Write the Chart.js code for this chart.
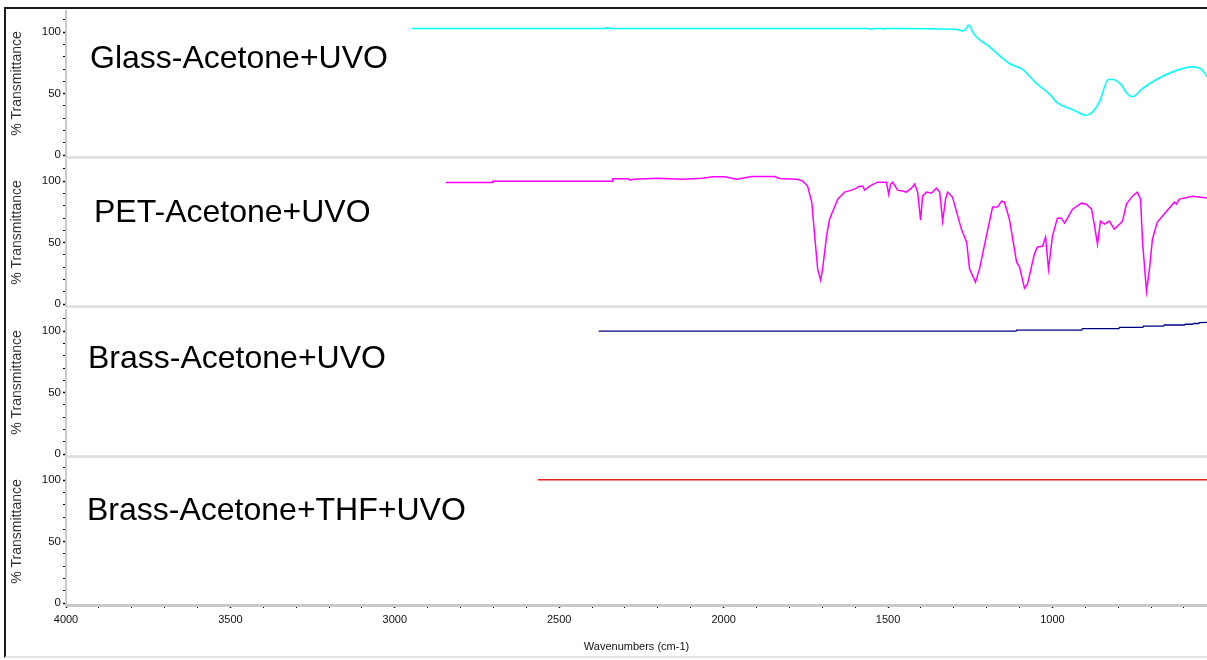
<!DOCTYPE html>
<html>
<head>
<meta charset="utf-8">
<title>FTIR spectra</title>
<script src="https://cdn.jsdelivr.net/npm/chart.js@4.4.1/dist/chart.umd.min.js"></script>
<style>
  html, body { margin: 0; padding: 0; background: #fff; width: 1207px; height: 660px; overflow: hidden; }
  #frame { position: absolute; left: 4px; top: 7px; width: 1210px; height: 651px; box-sizing: border-box;
           border-left: 2px solid #1a1a1a; border-top: 2px solid #1a1a1a; border-bottom: 2px solid #e4e4e4; }
  canvas { position: absolute; left: 6px; }
  .tag { position: absolute; font-family: "Liberation Sans", Arial, sans-serif; font-size: 32px;
         line-height: 32px; color: #000; white-space: nowrap; }
</style>
</head>
<body>
<div id="frame"></div>
<canvas id="p1" width="1201" height="149" style="top:10px"></canvas>
<canvas id="p2" width="1201" height="149" style="top:159px"></canvas>
<canvas id="p3" width="1201" height="149" style="top:309px"></canvas>
<canvas id="p4" width="1201" height="199" style="top:458px"></canvas>

<div class="tag" style="left:90px; top:41px">Glass-Acetone+UVO</div>
<div class="tag" style="left:94px; top:195px">PET-Acetone+UVO</div>
<div class="tag" style="left:88px; top:341px">Brass-Acetone+UVO</div>
<div class="tag" style="left:87px; top:493px">Brass-Acetone+THF+UVO</div>

<script>
// ---- spectra: wavenumber (cm-1) and % transmittance ----
const glassWavenumbers = [2948, 2360, 2353, 2346, 1560, 1552, 1545, 1520, 1514, 1508, 1465, 1289, 1274, 1262, 1255, 1248, 1243,
  1191, 1131, 1091, 1049, 1009, 985, 939, 897, 878, 857, 830, 818, 790, 775, 757, 726, 684, 635, 574, 547, 530];
const glassTransmittance = [103, 103, 103.8, 103, 103, 102.3, 103, 103, 102.4, 103, 103, 102.2, 101, 103, 105.7, 103.5, 100.2,
  88, 74.5, 69.7, 58.3, 49.6, 42.5, 37.2, 32.5, 35.2, 43.3, 61.5, 61.5, 56.9, 50.7, 47.5, 54.2, 61.5, 67.7, 71.8, 69.7, 64];

const petWavenumbers = [2845, 2704, 2702, 2339, 2337, 2290, 2286, 2274, 2201, 2125, 2064, 2033, 1997, 1960, 1915, 1845, 1830,
  1778, 1760, 1745, 1732, 1723, 1714, 1705, 1699, 1687, 1678, 1653, 1632, 1611, 1596, 1587, 1577, 1571, 1556, 1532, 1505,
  1498, 1492, 1486, 1471, 1456, 1444, 1429, 1419, 1410, 1401, 1395, 1383, 1368, 1353, 1343, 1334, 1325, 1319, 1304, 1277,
  1261, 1252, 1234, 1222, 1201, 1182, 1167, 1155, 1146, 1131, 1109, 1100, 1085, 1076, 1055, 1046, 1030, 1021, 1012, 1000,
  985, 973, 963, 939, 912, 897, 881, 872, 863, 854, 842, 827, 812, 796, 787, 775, 757, 742, 732, 726, 714, 705, 696, 681,
  653, 629, 623, 614, 574, 530];
const petTransmittance = [98.9, 98.9, 100, 100, 101.9, 101.9, 100.8, 101.6, 102.4, 101.6, 102.4, 103.5, 103.5, 101.6, 103.8, 103.8, 102.2,
  101.6, 100.2, 96.2, 82.9, 55.3, 28.5, 19.5, 28.5, 55.3, 69.1, 85.4, 91.1, 92.7, 94.3, 95.9, 95.9, 92.7, 95.9, 99.2, 99.2,
  89.4, 97.6, 99.2, 92.7, 91.9, 91.1, 94.3, 97.6, 91.1, 68.3, 87.8, 91.1, 90.2, 94.3, 91.1, 67.5, 85.4, 91.1, 87, 61,
  50.4, 28.5, 17.9, 28.5, 55.3, 78.9, 78.9, 83.7, 82.9, 69.1, 34.1, 30.1, 13, 16.3, 40.7, 46.3, 47.2, 54.5, 28.5, 55.3,
  69.9, 69.9, 65.9, 77.2, 82.1, 81.3, 77.2, 63.4, 48.8, 67.5, 65, 67.5, 61, 65, 67.5, 81.3, 87.8, 91.1, 85.4, 50.4, 10.6, 28.5, 52.8, 66.7,
  75.6, 82.9, 81.3, 85.4, 87.8, 86.2];

const brassWavenumbers = [2380, 1111, 1109, 911, 909, 798, 796, 725, 723, 662, 660, 598, 596, 575, 570, 555, 553, 530];
const brassTransmittance = [100, 100, 100.8, 100.8, 102, 102, 103, 103, 104, 104, 105, 105, 105.6, 105.6, 106.2, 106.2, 107, 107.2];

const brassThfWavenumbers = [2565, 530];
const brassThfTransmittance = [100.3, 100.3];

// ---- axis ticks ----
const yTickValues = [0, 10, 20, 30, 40, 50, 60, 70, 80, 90, 100, 110];
const yTickLabels = { 0: '0', 50: '50', 100: '100' };
const xTickValues = [4000, 3900, 3800, 3700, 3600, 3500, 3400, 3300, 3200, 3100, 3000, 2900, 2800, 2700, 2600, 2500,
  2400, 2300, 2200, 2100, 2000, 1900, 1800, 1700, 1600, 1500, 1400, 1300, 1200, 1100, 1000, 900, 800, 700, 600];
const xTickLabels = { 4000: '4000', 3500: '3500', 3000: '3000', 2500: '2500', 2000: '2000', 1500: '1500', 1000: '1000' };

const FONT = '"Liberation Sans", Arial, sans-serif';
const AXIS_GREY = '#c9c9c9';

function points(xs, ys) {
  return xs.map((x, i) => ({ x: x, y: ys[i] }));
}

function makePanel(id, xs, ys, color, width, smooth, bottom) {
  const xScale = {
    type: 'linear',
    reverse: true,
    min: 530,
    max: 4000,
    border: { display: true, color: bottom ? AXIS_GREY : '#e2e2e2', width: 3 },
    grid: { display: bottom, drawOnChartArea: false, drawTicks: true, tickLength: 3, color: '#000',
            tickWidth: c => (c.tick && c.tick.value % 500 === 0 ? 1.5 : 1) },
    ticks: {
      display: bottom,
      autoSkip: false, maxRotation: 0, minRotation: 0, padding: 5,
      color: '#111', font: { family: FONT, size: 11 },
      callback: v => xTickLabels[v] || ''
    },
    title: {
      display: bottom, text: 'Wavenumbers (cm-1)', color: '#111',
      font: { family: FONT, size: 11 }, padding: { top: 0, bottom: 3 }
    },
    afterBuildTicks: s => { s.ticks = xTickValues.map(v => ({ value: v })); },
    afterFit: s => { s.height = bottom ? 52 : 2; s.paddingLeft = 0; s.paddingRight = 0; }
  };
  const yScale = {
    type: 'linear',
    min: -1.5,
    max: 118,
    border: { display: true, color: AXIS_GREY, width: 2 },
    grid: { drawOnChartArea: false, drawTicks: true, tickLength: 3, color: '#000',
            tickWidth: c => (c.tick && c.tick.value % 50 === 0 ? 1.5 : 1) },
    ticks: {
      autoSkip: false,
      padding: 2, color: '#111', font: { family: FONT, size: 11.5 },
      callback: v => yTickLabels[v] || ''
    },
    title: {
      display: true, text: '% Transmittance', color: '#333',
      font: { family: FONT, size: 14 }, padding: { top: 3, bottom: 0 }
    },
    afterBuildTicks: s => { s.ticks = yTickValues.map(v => ({ value: v })); },
    afterFit: s => { s.width = 60; s.paddingTop = 0; s.paddingBottom = 0; }
  };
  return new Chart(document.getElementById(id), {
    type: 'line',
    data: {
      datasets: [{
        data: points(xs, ys),
        borderColor: color,
        borderWidth: width,
        pointRadius: 0,
        fill: false,
        tension: 0,
        cubicInterpolationMode: smooth ? 'monotone' : 'default'
      }]
    },
    options: {
      responsive: false,
      animation: false,
      devicePixelRatio: 1,
      layout: { padding: 0 },
      plugins: { legend: { display: false }, tooltip: { enabled: false } },
      scales: { x: xScale, y: yScale }
    }
  });
}

makePanel('p1', glassWavenumbers, glassTransmittance, '#00ffff', 1.6, true, false);
makePanel('p2', petWavenumbers, petTransmittance, '#ff00ff', 1.5, false, false);
makePanel('p3', brassWavenumbers, brassTransmittance, '#000080', 1.3, false, false);
makePanel('p4', brassThfWavenumbers, brassThfTransmittance, '#ee2020', 1.3, false, true);
</script>
</body>
</html>
